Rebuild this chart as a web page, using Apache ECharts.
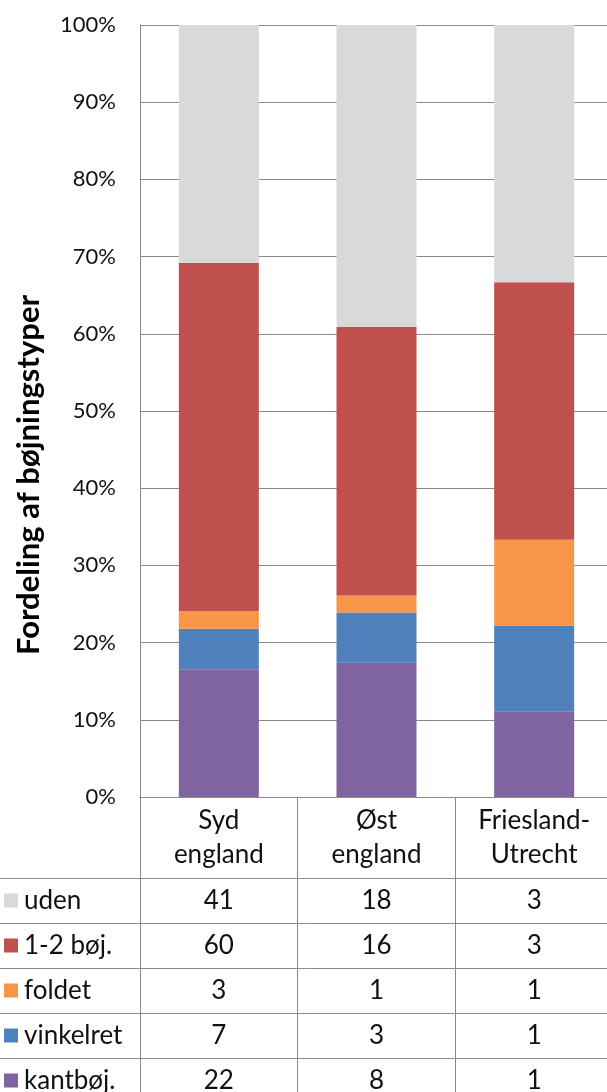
<!DOCTYPE html>
<html>
<head>
<meta charset="utf-8">
<script src="https://cdn.jsdelivr.net/npm/echarts@6/dist/echarts.min.js"></script>
<style>
  html, body { margin: 0; padding: 0; overflow: hidden; background: #fff; }
  #chart { width: 613px; height: 1103px; }
</style>
</head>
<body>
<div id="chart"></div>
<script>
// regions (columns) and bending types (table rows, top to bottom)
var regions = ['Syd\nengland', 'Øst\nengland', 'Friesland-\nUtrecht'];
var types = ['uden', '1-2 bøj.', 'foldet', 'vinkelret', 'kantbøj.'];
var colors = ['#D9D9D9', '#C0504D', '#F79646', '#4F81BD', '#8064A2'];

// counts per region, one array per type
var uden = [41, 18, 3];
var boej12 = [60, 16, 3];
var foldet = [3, 1, 1];
var vinkelret = [7, 3, 1];
var kantboej = [22, 8, 1];

var yTicks = [0, 10, 20, 30, 40, 50, 60, 70, 80, 90, 100];

var rows = [uden, boej12, foldet, vinkelret, kantboej];
var totals = regions.map(function (r, i) {
    return rows.reduce(function (s, row) { return s + row[i]; }, 0);
});

var font = 'Lato, "Open Sans", sans-serif';
var lineColor = '#898989';
var textColor = '#111';
var tableSize = 26;

var chart = echarts.init(document.getElementById('chart'), null, { renderer: 'canvas' });

// header axis (categories) + one extra axis per table row
var xAxes = [{
    type: 'category',
    gridIndex: 0,
    data: regions,
    axisLine: { show: true, lineStyle: { color: lineColor } },
    axisTick: { show: true, length: 81, interval: 0, lineStyle: { color: lineColor } },
    axisLabel: {
        interval: 0, margin: 7, color: textColor, fontFamily: font,
        fontSize: tableSize, lineHeight: 34
    }
}];
rows.forEach(function (row, r) {
    xAxes.push({
        type: 'category',
        gridIndex: 0,
        position: 'bottom',
        offset: 81 + 45 * r,
        data: regions,
        axisLine: { show: false },
        axisTick: { show: true, length: 45, interval: 0, lineStyle: { color: lineColor } },
        axisLabel: {
            interval: 0, margin: 0, color: textColor, fontFamily: font,
            fontSize: tableSize, lineHeight: 45,
            formatter: function (v, idx) { return String(row[idx]); }
        }
    });
});
// hidden axis for the row-label grid
xAxes.push({ type: 'value', gridIndex: 1, show: false });

var rich = { t: { fontFamily: font, fontSize: tableSize, color: textColor, padding: [0, 0, 0, 6] } };
colors.forEach(function (c, i) {
    rich['k' + i] = { width: 14, height: 14, backgroundColor: c };
});

// stacked from the bottom: last table row first
var series = [];
for (var r = rows.length - 1; r >= 0; r--) {
    series.push({
        name: types[r],
        type: 'bar',
        stack: 'all',
        barWidth: 80,
        xAxisIndex: 0,
        yAxisIndex: 0,
        itemStyle: { color: colors[r] },
        data: rows[r].map(function (v, i) { return v / totals[i] * 100; })
    });
}

chart.setOption({
    animation: false,
    backgroundColor: '#fff',
    grid: [
        { left: 140, right: 0, top: 25, height: 772 },
        { left: 0, right: 0, top: 878, height: 225 }
    ],
    xAxis: xAxes,
    yAxis: [{
        type: 'value',
        gridIndex: 0,
        min: yTicks[0],
        max: yTicks[yTicks.length - 1],
        interval: 10,
        name: 'Fordeling af bøjningstyper',
        nameLocation: 'middle',
        nameGap: 96,
        nameTextStyle: {
            fontFamily: font, fontWeight: 'bold', fontSize: 31, color: '#000',
            padding: [0, 128, 0, 0]
        },
        axisLine: { show: true, lineStyle: { color: lineColor } },
        axisTick: { show: false },
        splitLine: { lineStyle: { color: lineColor } },
        axisLabel: {
            margin: 24, color: textColor, fontFamily: font, fontSize: 22,
            formatter: '{value}%'
        }
    }, {
        type: 'category',
        gridIndex: 1,
        inverse: true,
        data: types,
        axisLine: { show: false },
        axisTick: { show: false },
        splitLine: { show: true, interval: 0, lineStyle: { color: lineColor } },
        axisLabel: {
            inside: true, margin: 4, interval: 0,
            formatter: function (v, idx) { return '{k' + idx + '|}{t|' + v + '}'; },
            rich: rich
        }
    }],
    series: series
});
</script>
</body>
</html>
